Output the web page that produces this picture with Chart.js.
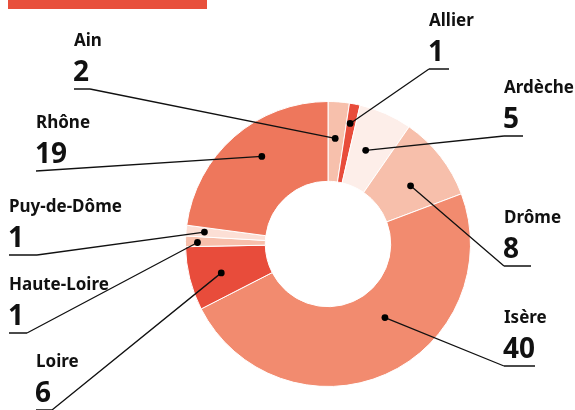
<!DOCTYPE html>
<html lang="fr">
<head>
<meta charset="UTF-8">
<title>Répartition par département</title>
<script src="https://cdn.jsdelivr.net/npm/chart.js"></script>
<style>
    html, body { margin: 0; padding: 0; background: #fff; }
    .wrap { position: relative; width: 575px; height: 410px; overflow: hidden; }
    .banner { position: absolute; left: 8px; top: 0; width: 199px; height: 9px; background: #e84f3b; }
    canvas { position: absolute; left: 0; top: 0; }
</style>
</head>
<body>
<div class="wrap">
    <div class="banner"></div>
    <canvas id="donut" width="575" height="410"></canvas>
</div>
<script>
// données
const departements = ["Ain", "Allier", "Ardèche", "Drôme", "Isère", "Loire", "Haute-Loire", "Puy-de-Dôme", "Rhône"];
const valeurs = [2, 1, 5, 8, 40, 6, 1, 1, 19];
const couleurs = ["#f7c0ac", "#e84c3b", "#fdeee9", "#f7bfab", "#f28b6f", "#e84c3b", "#f7bfab", "#fcdfd5", "#ee775c"];

// placement des étiquettes : x, ligne de base du nom, longueur du soulignement, côté
const etiquettes = [
    { x: 74, y: 46, trait: 16, cote: "g" },
    { x: 429, y: 26, trait: 20, cote: "d" },
    { x: 504, y: 93, trait: 19, cote: "d" },
    { x: 504, y: 223, trait: 27, cote: "d" },
    { x: 504, y: 323, trait: 31, cote: "d" },
    { x: 36, y: 367, trait: 16, cote: "g" },
    { x: 9, y: 290, trait: 18, cote: "g" },
    { x: 9, y: 212, trait: 28, cote: "g" },
    { x: 36, y: 128, trait: 0, cote: "g" }
];
// position du point dans chaque part (fraction de l'angle, fraction de l'épaisseur)
const pointeurs = [
    [0.45, 0.54], [0.4, 0.75], [0.41, 0.48], [0.58, 0.48], [0.42, 0.38],
    [0.46, 0.6], [0.4, 0.85], [0.52, 0.77], [0.55, 0.59]
];

const pluginEtiquettes = {
    id: "etiquettes",
    afterDraw(chart) {
        const ctx = chart.ctx;
        const arcs = chart.getDatasetMeta(0).data;
        ctx.save();
        arcs.forEach((arc, i) => {
            const p = arc.getProps(["x", "y", "startAngle", "endAngle", "innerRadius", "outerRadius"], true);
            const a = p.startAngle + pointeurs[i][0] * (p.endAngle - p.startAngle);
            const r = p.innerRadius + pointeurs[i][1] * (p.outerRadius - p.innerRadius);
            const px = p.x + Math.cos(a) * r;
            const py = p.y + Math.sin(a) * r;

            const e = etiquettes[i];
            ctx.fillStyle = "#111";
            ctx.textAlign = "left";
            ctx.textBaseline = "alphabetic";
            ctx.font = "bold 17px 'Noto Sans'";
            ctx.fillText(departements[i], e.x, e.y);
            ctx.font = "bold 28px 'Noto Sans'";
            ctx.fillText(String(valeurs[i]), e.x - 1, e.y + 35);

            const yl = e.y + 43;
            const depart = e.cote === "g" ? e.x + e.trait : e.x;
            ctx.strokeStyle = "#111";
            ctx.lineWidth = 1.3;
            ctx.beginPath();
            ctx.moveTo(e.x, yl);
            ctx.lineTo(e.x + e.trait, yl);
            ctx.moveTo(depart, yl);
            ctx.lineTo(px, py);
            ctx.stroke();

            ctx.beginPath();
            ctx.arc(px, py, 3.4, 0, Math.PI * 2);
            ctx.fillStyle = "#000";
            ctx.fill();
        });
        ctx.restore();
    }
};

new Chart(document.getElementById("donut"), {
    type: "doughnut",
    data: {
        labels: departements,
        datasets: [{
            data: valeurs,
            backgroundColor: couleurs,
            borderColor: "#ffffff",
            borderWidth: 1
        }]
    },
    options: {
        responsive: false,
        animation: false,
        cutout: "44%",
        layout: { padding: { top: 101, bottom: 23, left: 185, right: 104 } },
        plugins: {
            legend: { display: false },
            tooltip: { enabled: false }
        }
    },
    plugins: [pluginEtiquettes]
});
</script>
</body>
</html>
